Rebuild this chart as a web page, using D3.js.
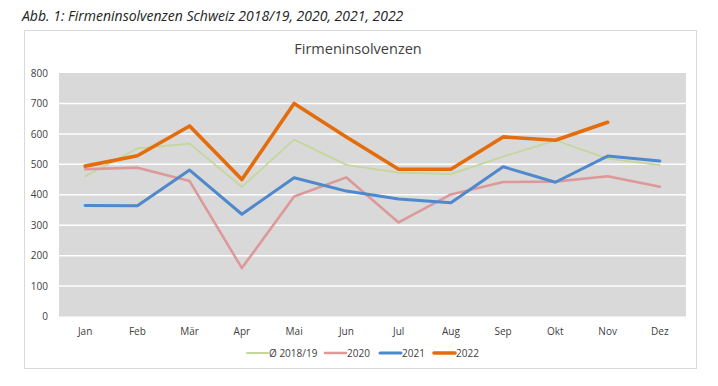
<!DOCTYPE html>
<html>
<head>
    <meta charset="utf-8">
    <title>Firmeninsolvenzen</title>
    <style>
        body { margin: 0; background: #fff; }
        text { font-family: "Open Sans", sans-serif; }
    </style>
</head>
<body>
    <script src="https://cdnjs.cloudflare.com/ajax/libs/d3/7.9.0/d3.min.js"></script>
    <script>

        const months = ["Jan", "Feb", "Mär", "Apr", "Mai", "Jun", "Jul", "Aug", "Sep", "Okt", "Nov", "Dez"];
        const avg1819 = [461, 552, 568, 426, 581, 498, 473, 468, 525, 579, 519, 497];
        const y2020 = [484, 489, 445, 159, 394, 457, 309, 401, 442, 443, 461, 426];
        const y2021 = [365, 364, 481, 336, 456, 412, 386, 374, 492, 441, 527, 511];
        const y2022 = [494, 528, 626, 450, 700, 590, 484, 484, 590, 579, 638];
        const yTicks = [0, 100, 200, 300, 400, 500, 600, 700, 800];

        const series = [
            {name: "Ø 2018/19", values: avg1819, color: "#c4d79b", width: 1.8},
            {name: "2020", values: y2020, color: "#dd999a", width: 2.6},
            {name: "2021", values: y2021, color: "#4f88cc", width: 3},
            {name: "2022", values: y2022, color: "#e46c0a", width: 3.6}
        ];

        const width = 718;
        const height = 386;
        const margin = {top: 73, right: 32, bottom: 69, left: 59};

        const svg = d3.select("body")
            .append("svg")
            .attr("width", width)
            .attr("height", height);

        // caption above the chart
        svg.append("text")
            .attr("x", 22)
            .attr("y", 21)
            .attr("font-size", "14px")
            .attr("font-style", "italic")
            .attr("fill", "#222")
            .text("Abb. 1: Firmeninsolvenzen Schweiz 2018/19, 2020, 2021, 2022");

        // chart frame
        svg.append("rect")
            .attr("x", 24.5)
            .attr("y", 30.5)
            .attr("width", 672)
            .attr("height", 338)
            .attr("fill", "#fff")
            .attr("stroke", "#d9d9d9");

        svg.append("text")
            .attr("x", 358)
            .attr("y", 54)
            .attr("text-anchor", "middle")
            .attr("font-size", "14.5px")
            .attr("fill", "#404040")
            .text("Firmeninsolvenzen");

        const x = d3.scaleBand()
            .domain(months)
            .range([margin.left, width - margin.right - 0]);

        const y = d3.scaleLinear()
            .domain([0, 800])
            .range([height - margin.bottom - 0.5, margin.top]);

        // plot background
        svg.append("rect")
            .attr("x", margin.left)
            .attr("y", y(800))
            .attr("width", x.range()[1] - margin.left)
            .attr("height", y(0) - y(800))
            .attr("fill", "#d9d9d9");

        // gridlines
        svg.append("g")
            .selectAll("line")
            .data(yTicks.filter(d => d > 0 && d < 800))
            .enter()
            .append("line")
            .attr("x1", margin.left)
            .attr("x2", x.range()[1])
            .attr("y1", d => y(d))
            .attr("y2", d => y(d))
            .attr("stroke", "#fff")
            .attr("stroke-width", 1.5);

        // y axis
        const yAxis = svg.append("g")
            .attr("transform", `translate(${margin.left - 11},0)`)
            .call(d3.axisLeft(y).tickValues(yTicks).tickSize(0).tickPadding(0));
        yAxis.select(".domain").remove();
        yAxis.selectAll("text")
            .attr("font-size", "10px")
            .attr("font-family", "Open Sans")
            .attr("fill", "#404040");

        // x axis
        const xAxis = svg.append("g")
            .attr("transform", `translate(0,${y(0) + 9})`)
            .call(d3.axisBottom(x).tickSize(0).tickPadding(2));
        xAxis.select(".domain").remove();
        xAxis.selectAll("text")
            .attr("font-size", "10px")
            .attr("font-family", "Open Sans")
            .attr("fill", "#404040");

        const line = d3.line()
            .x((d, i) => x(months[i]) + x.bandwidth() / 2)
            .y(d => y(d));

        svg.append("g")
            .selectAll("path")
            .data(series)
            .enter()
            .append("path")
            .attr("d", d => line(d.values))
            .attr("fill", "none")
            .attr("stroke", d => d.color)
            .attr("stroke-width", d => d.width)
            .attr("stroke-linejoin", "round")
            .attr("stroke-linecap", "round");

        // legend
        const legendX = [247, 325, 380, 434];
        const legend = svg.append("g")
            .selectAll("g")
            .data(series)
            .enter()
            .append("g")
            .attr("transform", (d, i) => `translate(${legendX[i]},353)`);

        legend.append("line")
            .attr("x1", 0)
            .attr("x2", 21)
            .attr("stroke", d => d.color)
            .attr("stroke-width", d => d.width)
            .attr("stroke-linecap", "round");

        legend.append("text")
            .attr("x", 22)
            .attr("dy", "0.35em")
            .attr("font-size", "10px")
            .attr("fill", "#404040")
            .text(d => d.name);

    </script>
</body>
</html>
